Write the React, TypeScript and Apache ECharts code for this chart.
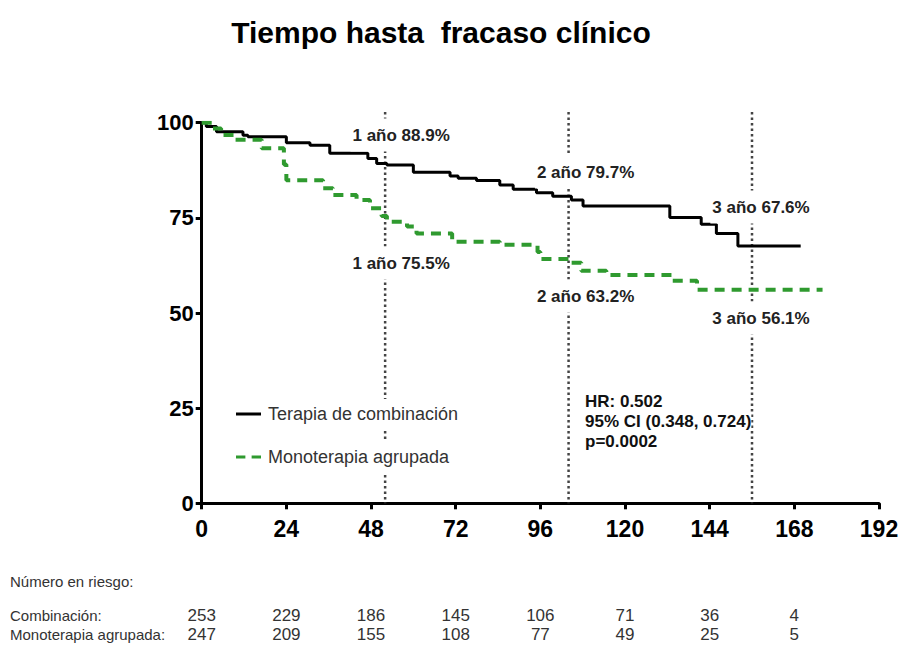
import React, { useEffect, useRef } from 'react';
import * as echarts from 'echarts';

// ---- data ----
const titleText = 'Tiempo hasta  fracaso clínico';
const seriesNames = ['Terapia de combinación', 'Monoterapia agrupada'];

// Kaplan-Meier steps (weeks, % free of clinical failure)
const combTimes = [0, 1.3, 4.2, 11.7, 13.1, 24, 30.7, 36.3, 47.1, 49.6, 52.5, 60, 70.4, 72.7, 77.9, 84.5, 88.3, 94.9, 99.5, 104.8, 108.1, 132.7, 141.6, 145.9, 152, 169.8];
const combSurv = [100, 99.0, 97.6, 96.7, 96.3, 94.7, 94.1, 92.0, 90.6, 89.3, 88.9, 87.0, 86.0, 85.4, 84.8, 83.6, 82.5, 81.6, 80.7, 79.7, 78.1, 75.1, 73.3, 70.9, 67.6, 67.6];

const monoTimes = [0, 3, 5.5, 9.5, 17, 23.3, 24, 34.4, 37.2, 43.9, 47.7, 51, 52.5, 58.2, 60.9, 71, 84.5, 95.2, 96, 104.3, 107.6, 114.7, 133.5, 140.4, 176];
const monoSurv = [100, 98.5, 96.8, 95.5, 93.3, 89.0, 84.9, 82.8, 81.0, 79.7, 77.5, 75.5, 74.0, 72.7, 70.9, 68.7, 67.9, 66.0, 64.2, 63.2, 61.1, 60.0, 58.5, 56.1, 56.1];

const landmarkWeeks = [52, 104, 156];
const landmarkYears = ['1 año', '2 año', '3 año'];
const landmarkComb = ['88.9%', '79.7%', '67.6%'];
const landmarkMono = ['75.5%', '63.2%', '56.1%'];

const statsLines = ['HR: 0.502', '95% CI (0.348, 0.724)', 'p=0.0002'];

const riskTitle = 'Número en riesgo:';
const riskRowLabels = ['Combinación:', 'Monoterapia agrupada:'];
const riskTimes = [0, 24, 48, 72, 96, 120, 144, 168];
const riskComb = [253, 229, 186, 145, 106, 71, 36, 4];
const riskMono = [247, 209, 155, 108, 77, 49, 25, 5];

const xMin = 0;
const xMax = 192;
const xInterval = 24;
const yMin = 0;
const yMax = 100;
const yInterval = 25;

const FONT = '"Liberation Sans", Arial, Helvetica, sans-serif';
const NARROW = '"Liberation Sans Narrow", "Arial Narrow", "Liberation Sans", sans-serif';

const BLACK = '#000';
const GREEN = '#2f9a2f';

export default function App() {
  const ref = useRef<HTMLDivElement>(null);

  useEffect(() => {
    if (!ref.current) return;
    const chart = echarts.init(ref.current, undefined, { renderer: 'svg' });

    const landmarkSeries = landmarkWeeks.map((w, i) => ({
      type: 'line',
      name: 'landmark' + i,
      data: [[w, 102.8], [w, 0]],
      symbol: 'none',
      clip: false,
      silent: true,
      z: 1,
      lineStyle: { color: '#444', width: 2.5, type: [2.5, 3] },
    }));

    const option: any = {
      animation: false,
      backgroundColor: '#fff',
      textStyle: { fontFamily: FONT },
      grid: { left: 201.7, right: 24, top: 122.7, bottom: 141.7, containLabel: false },
      legend: {
        data: [
          { name: seriesNames[0], icon: 'path://M0 0H25V3H0Z' },
          { name: seriesNames[1], icon: 'path://M0 0H9V3H0Z M15 0H24V3H15Z' },
        ],
        orient: 'vertical',
        left: 231,
        top: 394,
        itemGap: 13,
        itemWidth: 25,
        itemHeight: 3.5,
        textStyle: {
          fontFamily: FONT,
          fontSize: 18,
          color: '#333',
          backgroundColor: '#fff',
          padding: [6, 2],
        },
      },
      xAxis: {
        type: 'value',
        min: xMin,
        max: xMax,
        interval: xInterval,
        splitLine: { show: false },
        axisLine: { show: true, onZero: false, lineStyle: { color: '#000', width: 3 } },
        axisTick: { show: true, length: 6, lineStyle: { color: '#000', width: 3 } },
        axisLabel: { color: '#000', fontSize: 23, fontWeight: 'bold', margin: 14, fontFamily: FONT },
      },
      yAxis: {
        type: 'value',
        min: yMin,
        max: yMax,
        interval: yInterval,
        splitLine: { show: false },
        axisLine: { show: true, onZero: false, lineStyle: { color: '#000', width: 3 } },
        axisTick: { show: true, length: 6, lineStyle: { color: '#000', width: 3 } },
        axisLabel: { color: '#000', fontSize: 22, fontWeight: 'bold', margin: 8, fontFamily: FONT },
      },
      series: [
        ...landmarkSeries,
        {
          type: 'line',
          name: seriesNames[0],
          data: combTimes.map((t, i) => [t, combSurv[i]]),
          step: 'end',
          symbol: 'none',
          z: 3,
          lineStyle: { color: BLACK, width: 3 },
          itemStyle: { color: BLACK },
        },
        {
          type: 'line',
          name: seriesNames[1],
          data: monoTimes.map((t, i) => [t, monoSurv[i]]),
          step: 'end',
          symbol: 'none',
          z: 3,
          lineStyle: { color: GREEN, width: 4, type: [10, 7] },
          itemStyle: { color: GREEN },
        },
      ],
    };

    chart.setOption(option);

    const px = (w: number) => chart.convertToPixel({ xAxisIndex: 0 }, w) as number;

    const graphics: any[] = [];
    graphics.push({
      type: 'text',
      x: 441,
      y: 32,
      z: 100,
      style: {
        text: titleText,
        font: 'bold 30px ' + FONT,
        fill: '#000',
        align: 'center',
        verticalAlign: 'middle',
      },
    });

    const labelOffsets = [16, 17, 9];
    const upperY = [135, 172, 207];
    const lowerY = [263, 296, 318];
    landmarkWeeks.forEach((w, i) => {
      const cx = px(w) + labelOffsets[i];
      [
        [upperY[i], landmarkComb[i]],
        [lowerY[i], landmarkMono[i]],
      ].forEach(([y, pct]) => {
        graphics.push({
          type: 'text',
          x: cx,
          y: y as number,
          z: 100,
          style: {
            text: landmarkYears[i] + ' ' + pct,
            font: 'bold 17px ' + FONT,
            fill: '#222',
            align: 'center',
            verticalAlign: 'middle',
            backgroundColor: '#fff',
            padding: [8, 2],
          },
        });
      });
    });

    const statsY = [401, 421, 441];
    statsLines.forEach((s, i) => {
      graphics.push({
        type: 'text',
        x: 585,
        y: statsY[i],
        z: 100,
        style: {
          text: s,
          font: 'bold 17px ' + FONT,
          fill: '#111',
          align: 'left',
          verticalAlign: 'middle',
          backgroundColor: '#fff',
        },
      });
    });

    graphics.push({
      type: 'text',
      x: 10,
      y: 581,
      z: 100,
      style: { text: riskTitle, font: '15px ' + NARROW, fill: '#333', align: 'left', verticalAlign: 'middle' },
    });
    const rowY = [615, 634];
    [riskComb, riskMono].forEach((row, r) => {
      graphics.push({
        type: 'text',
        x: 10,
        y: rowY[r],
        z: 100,
        style: { text: riskRowLabels[r], font: '15px ' + NARROW, fill: '#333', align: 'left', verticalAlign: 'middle' },
      });
      row.forEach((n, i) => {
        graphics.push({
          type: 'text',
          x: px(riskTimes[i]),
          y: rowY[r],
          z: 100,
          style: { text: String(n), font: '17px ' + NARROW, fill: '#333', align: 'center', verticalAlign: 'middle' },
        });
      });
    });

    chart.setOption({ graphic: graphics });

    return () => {
      chart.dispose();
    };
  }, []);

  return (
    <div
      ref={ref}
      style={{ position: 'absolute', left: 0, top: 0, width: 903, height: 645, background: '#fff' }}
    />
  );
}
